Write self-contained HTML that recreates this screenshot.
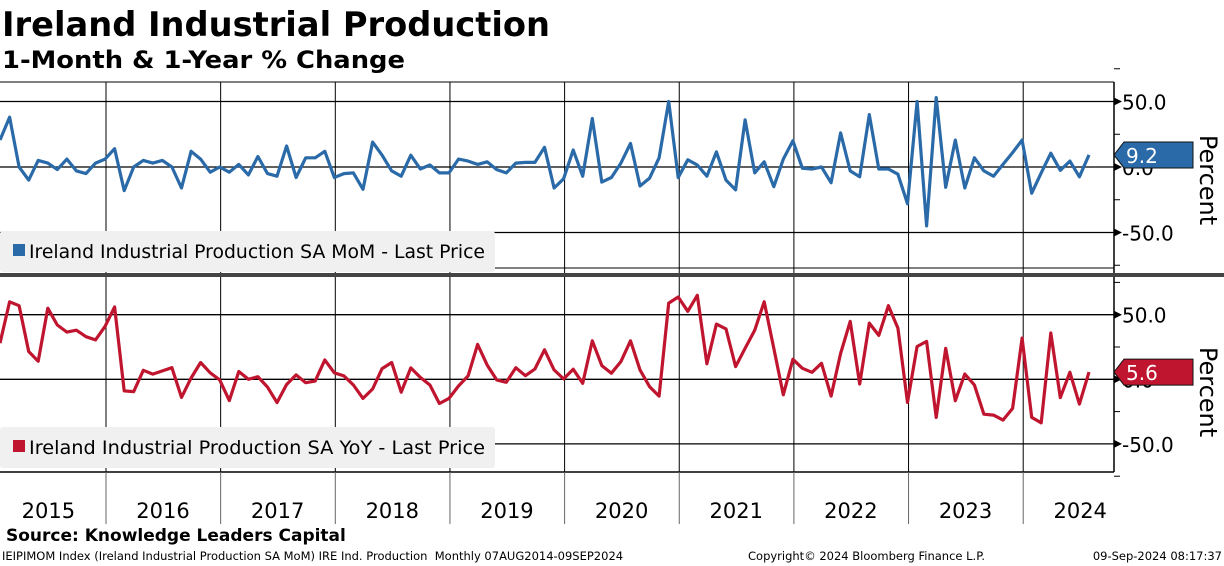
<!DOCTYPE html>
<html><head><meta charset="utf-8"><style>
body{margin:0;background:#fff;width:1224px;height:566px;overflow:hidden;font-family:"Liberation Sans","DejaVu Sans",sans-serif}
svg{position:absolute;left:0;top:0}
</style></head><body>
<svg width="1224" height="566" xmlns="http://www.w3.org/2000/svg">
<text x="2" y="36" font-size="34" font-weight="bold" font-family="DejaVu Sans, sans-serif" textLength="548" lengthAdjust="spacingAndGlyphs">Ireland Industrial Production</text>
<text x="2" y="68" font-size="24" font-weight="bold" font-family="DejaVu Sans, sans-serif" textLength="403" lengthAdjust="spacingAndGlyphs">1-Month &amp; 1-Year % Change</text>
<g id="grid"></g>
<g id="mom"></g>
<g id="yoy"></g>
<g id="axes"></g>
</svg>
<script>
const years=['2015','2016','2017','2018','2019','2020','2021','2022','2023','2024'];
const yTicks=[50,0,-50];
const momValues=[20.6,38,0,-10,5,3,-2,6,-3,-5,3,6,14,-18,0,5,3,5,0,-16,12,6,-4,0,-4,2,-6,8,-5,-7,16,-8,7,7,12,-8,-5,-4.5,-17,19,9,-3,-7,9,-1.5,1.5,-4.5,-4.5,6,4.5,2,4,-2,-4.5,3,3.5,3.5,15,-16,-9,13,-7,37,-11.5,-8,3,18,-14.5,-8.5,7,50,-8,5.5,1.5,-7,11.5,-10,-17.5,36,-4.5,4,-15,6,20,-1,-1.5,0,-12,26,-3,-7.5,40,-1.5,-1.5,-5.5,-28,50,-45,53,-15.5,20.5,-16,7,-3,-7,2,11,20.5,-20,-4.5,10.5,-2.5,4.5,-7.5,9.2];
const yoyValues=[28,60,57,21.5,14,55,42,36.5,38,33,30.5,41,56,-9,-9.5,7,4,6.5,9,-14,1,13,5,-0.5,-16.5,6,0,2,-6,-18,-4,3.4,-2.6,-1.3,15,5,2.6,-4.4,-14.8,-7.5,8.3,13,-10,8.8,1.5,-4.4,-18.7,-14.8,-5.2,2.6,27,11,-0.5,-2.3,9,2.8,8,22.8,7.3,0.3,7.8,-3.1,29.8,10.6,4.7,13.7,29.8,7.3,-5.7,-13,59,63.7,52.6,65,12,42.7,39,9.8,24,38,60,24,-12,15.5,8.5,5.4,12.4,-13,20,44.8,-3.6,43.5,34,57,39.6,-17.9,25.4,29.3,-29.5,24,-16.6,4.1,-4.4,-27,-27.7,-31.6,-22.5,31.9,-29.5,-33.7,35.8,-14.2,5.4,-19.2,5.6];
const NS='http://www.w3.org/2000/svg';
function mk(t,a,p){const e=document.createElementNS(NS,t);for(const k in a)e.setAttribute(k,a[k]);p.appendChild(e);return e;}
const PR=1114;
const xOf=(i,n)=>i*1089/(n-1);
const yearX=y=>106+(y-2016)*114.65;
const topY=v=>167-v*65.5/50;
const botY=v=>379.3-v*64.6/50;
const g=document.getElementById('axes');
const grid=document.getElementById('grid');
mk('line',{x1:0,y1:82,x2:PR,y2:82,stroke:'#000','stroke-width':1},grid);
mk('line',{x1:PR,y1:82,x2:PR,y2:472,stroke:'#000','stroke-width':1.5},grid);
mk('line',{x1:0,y1:472,x2:PR,y2:472,stroke:'#000','stroke-width':1.5},grid);
mk('line',{x1:0,y1:268,x2:PR,y2:268,stroke:'#000','stroke-width':1},grid);
years.forEach((yr,k)=>{
  if(k>0){const x=yearX(+yr);
  const l1=mk('line',{x1:x,y1:82,x2:x,y2:472,stroke:'#000','stroke-width':1},grid);
  
  
  mk('line',{x1:x,y1:472,x2:x,y2:524,stroke:'#666','stroke-width':1},grid);}
  const t=mk('text',{x:yearX(+yr)+57,y:518,'font-size':21,'text-anchor':'middle','font-family':'DejaVu Sans, sans-serif'},g);
  t.textContent=yr;
  
  
});
function panel(fy,label,pfx){
  yTicks.forEach(v=>{
    const y=fy(v);
    mk('line',{x1:0,y1:y,x2:PR,y2:y,stroke:'#000','stroke-width':1.3},grid);
    mk('path',{d:`M${PR},${y-4}L${PR+8},${y}L${PR},${y+4}Z`,fill:'#000'},g);
    const t=mk('text',{x:PR+8,y:y+8,'font-size':20,'font-family':'DejaVu Sans, sans-serif'},g);
    t.textContent=v.toFixed(1);
    
    
  });
  [25,-25,75,-75].forEach(v=>{const y=fy(v);mk('line',{x1:PR,y1:y,x2:PR+6,y2:y,stroke:'#000'},g);});
}
panel(topY,'','top');panel(botY,'','bottom');
mk('rect',{x:0,y:273,width:1224,height:4,fill:'#444'},g);
function series(vals,fy,color,id,name){
  const p=vals.map((v,i)=>(i?'L':'M')+xOf(i,vals.length).toFixed(1)+','+fy(v).toFixed(1)).join('');
  const el=mk('path',{d:p,fill:'none',stroke:color,'stroke-width':3.2,'stroke-linejoin':'round'},document.getElementById(id));
  
  
}
series(momValues,topY,'#2a6aa8','mom','mom-line');
series(yoyValues,botY,'#c0152f','yoy','yoy-line');
function legend(y,color,text,name){
  mk('rect',{x:0,y:y,width:495,height:41,fill:'#f0f0f0',rx:3},g);
  mk('rect',{x:13,y:y+13,width:12,height:12,fill:color},g);
  const t=mk('text',{x:29,y:y+27,'font-size':19,'font-family':'DejaVu Sans, sans-serif',textLength:456,lengthAdjust:'spacingAndGlyphs'},g);
  t.textContent=text;
  
  
}
legend(231,'#2a6aa8','Ireland Industrial Production SA MoM - Last Price','mom-legend-entry');
legend(427,'#c0152f','Ireland Industrial Production SA YoY - Last Price','yoy-legend-entry');
function lastTag(v,fy,color,name){
  const y=fy(v);
  mk('path',{d:`M${PR},${y} L${PR+10},${y-13} L${1193},${y-13} L1193,${y+13} L${PR+10},${y+13}Z`,fill:color,stroke:'#111'},g);
  const t=mk('text',{x:PR+12,y:y+8,'font-size':20,fill:'#fff','font-family':'DejaVu Sans, sans-serif'},g);
  t.textContent=v.toFixed(1);
  
  
}
lastTag(momValues[momValues.length-1],topY,'#2a6aa8','mom-last-value');
lastTag(yoyValues[yoyValues.length-1],botY,'#c0152f','yoy-last-value');
[[180,'top'],[392,'bottom']].forEach(([cy,n])=>{
  const t=mk('text',{x:1200,y:cy,'font-size':24,'text-anchor':'middle',transform:`rotate(90 1200 ${cy})`,'font-family':'DejaVu Sans, sans-serif'},g);
  t.textContent='Percent';
  
  
});
</script>
<div style="position:absolute;left:6px;top:526px;font:bold 17px 'DejaVu Sans',sans-serif">Source: Knowledge Leaders Capital</div>
<div style="position:absolute;left:2px;top:549px;font:11.5px 'DejaVu Sans',sans-serif;width:1220px">IEIPIMOM Index (Ireland Industrial Production SA MoM) IRE Ind. Production&nbsp; Monthly 07AUG2014-09SEP2024<span style="position:absolute;left:746px">Copyright© 2024 Bloomberg Finance L.P.</span><span style="position:absolute;right:0">09-Sep-2024 08:17:37</span></div>
</body></html>
